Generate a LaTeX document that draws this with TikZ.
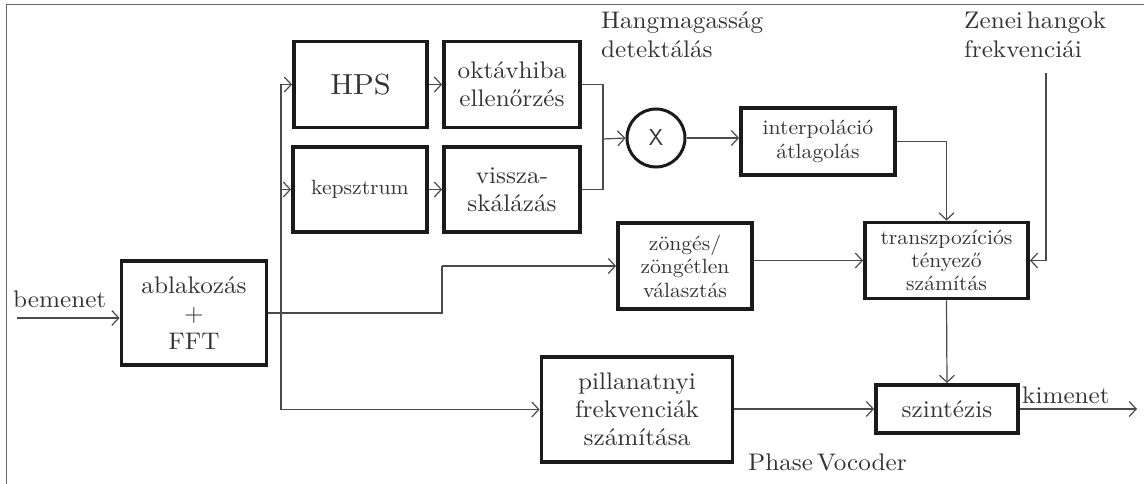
\documentclass[tikz,border=0pt]{standalone}
\usepackage{fontspec}
\setmainfont{lmroman10-regular.otf}[FakeStretch=1.05]
\usetikzlibrary{arrows.meta,positioning,calc}
\definecolor{txt}{HTML}{333333}
\definecolor{boxc}{HTML}{1A1A1A}
\definecolor{linec}{HTML}{4A4A4A}
\tikzset{
  blk/.style={draw=boxc,line width=3.8pt,text=txt,align=center,inner sep=0pt,
    minimum width=#1},
  conn/.style={draw=linec,line width=1.2pt},
  arr/.style={conn,-{Straight Barb[length=7pt,width=15pt,line width=1.2pt]}},
  lbl/.style={text=txt,align=left,inner sep=0pt},
}
\newcommand{\fsA}{\fontsize{24}{28}\selectfont}
\newcommand{\fsB}{\fontsize{20.6}{23.5}\selectfont}
\newcommand{\fsL}{\fontsize{24}{28.5}\selectfont}
\begin{document}
\begin{tikzpicture}[x=1pt,y=-1pt]
\useasboundingbox (0,0) rectangle (1144,484);
\draw[draw=gray!80!black,line width=1pt] (6,484) -- (6,5) -- (1144,5);

% boxes
\node[blk=133pt,minimum height=86pt,font=\fontsize{29}{32}\selectfont] (hps) at (360.5,84.5) {HPS};
\node[blk=136pt,minimum height=86pt,font=\fsA] (okt) at (512,84.5) {oktávhiba\\ellenőrzés};
\node[blk=134pt,minimum height=85pt,font=\fsB] (kep) at (360,189.5) {kepsztrum};
\node[blk=136pt,minimum height=85pt,font=\fsA] (vis) at (512,189.5) {vissza-\\skálázás};
\node[draw=boxc,line width=3pt,circle,minimum size=58pt,inner sep=0pt,text=txt,
  font=\sffamily\fontsize{23}{24}\selectfont] (mul) at (656,138) {X};
\node[blk=154pt,minimum height=67pt,font=\fsB] (itp) at (818,141.5) {interpoláció\\átlagolás};
\node[blk=163pt,minimum height=76pt,font=\fontsize{20.6}{23}\selectfont] (trp) at (946.5,260.5) {transzpozíciós\\tényező\\számítás};
\node[blk=134pt,minimum height=86pt,font=\fontsize{20.6}{23.5}\selectfont] (zng) at (685,266) {zöngés/\\zöngétlen\\választás};
\node[blk=145pt,minimum height=104pt,font=\fsA] (abl) at (194,313) {ablakozás\\+\\FFT};
\node[blk=191pt,minimum height=105pt,font=\fsA] (pil) at (637,409.5) {pillanatnyi\\frekvenciák\\számítása};
\node[blk=142pt,minimum height=48pt,font=\fsA] (szt) at (947,409) {szintézis};

% labels
\node[lbl,font=\fsL,anchor=west] (bem) at (13,299) {bemenet};
\node[lbl,font=\fsL,anchor=west] (kim) at (1022,395) {kimenet};
\node[lbl,font=\fsL,anchor=north west] (hang) at (601,12) {Hangmagasság\\detektálás};
\node[lbl,font=\fsL,anchor=north west] (zen) at (964,12) {Zenei\,hangok\\frekvenciái};
\node[lbl,font=\fsL,anchor=west] (pv) at (748,462) {Phase\,Vocoder};

% coordinates
\coordinate (bin) at (17,318);
\coordinate (jn) at (281,313);
\coordinate (kv) at (442,313);
\coordinate (zy) at (442,266);
\coordinate (mx) at (603,139);
\coordinate (zt) at (1046,73);
\coordinate (out) at (1137,409);

% connectors
\draw[arr] (bin) -- (bin -| abl.west);
\draw[conn] (abl.east |- jn) -- (kv) -- (zy);
\draw[arr] (zy) -- (zy -| zng.west);
\draw[conn] (hps.west -| jn) -- (pil.west -| jn);
\draw[arr] (hps.west -| jn) -- (hps.west);
\draw[arr] (kep.west -| jn) -- (kep.west);
\draw[arr] (pil.west -| jn) -- (pil.west);
\draw[arr] (hps) -- (okt);
\draw[arr] (kep) -- (vis);
\draw[conn] (okt.east) -| (mx) |- (vis.east);
\draw[arr] (mx) -- (mul.west);
\draw[arr] (mul.east) -- (mul.east -| itp.west);
\draw[arr] (itp.east) -| (trp.north);
\draw[arr] (zng.east |- trp.west) -- (trp.west);
\draw[arr] (zt) |- (trp.east);
\draw[arr] (trp.south) -- (szt.north);
\draw[arr] (pil.east |- szt.west) -- (szt.west);
\draw[arr] (szt.east) -- (out);
\end{tikzpicture}
\end{document}
